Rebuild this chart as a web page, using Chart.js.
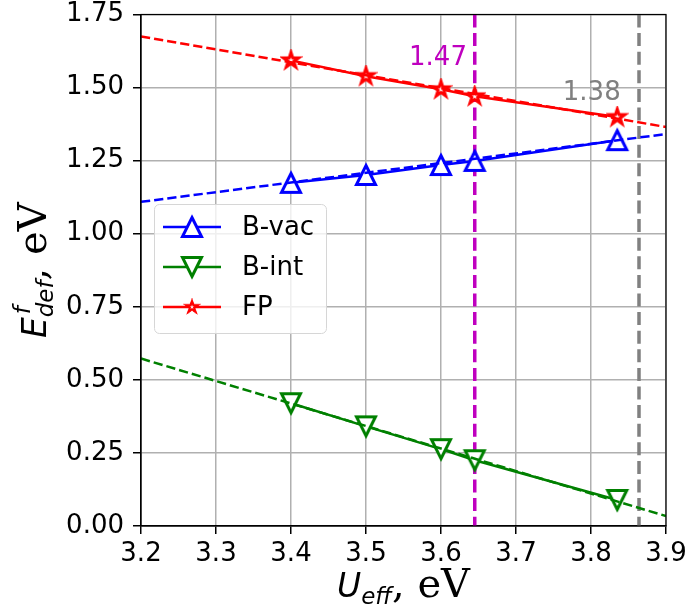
<!DOCTYPE html>
<html>
<head>
<meta charset="utf-8">
<script src="https://cdn.jsdelivr.net/npm/chart.js@4.4.0/dist/chart.umd.min.js"></script>
<style>
  html, body { margin: 0; padding: 0; background: #fff; }
  #wrap { width: 690px; height: 614px; }
</style>
</head>
<body>
<div id="wrap"><canvas id="chart" width="690" height="614"></canvas></div>
<script>
// Данные
const uEff = [3.4, 3.5, 3.6, 3.645, 3.835];
const bVac = [1.174, 1.201, 1.235, 1.249, 1.320];
const bInt = [0.420, 0.341, 0.263, 0.225, 0.089];
const fp = [1.593, 1.539, 1.494, 1.470, 1.399];

// Пунктирные аппроксимации (концы на краях оси)
const fitX = [3.2, 3.9];
const bVacFit = [1.109, 1.341];
const bIntFit = [0.573, 0.034];
const fpFit = [1.675, 1.365];

// Вертикальные линии и подписи
const vLines = [
  { x: 3.645, color: "#bf00bf", label: "1.47", labelX: 3.596, labelY: 1.60 },
  { x: 3.864, color: "#808080", label: "1.38", labelX: 3.801, labelY: 1.481 },
];

const xTicks = [3.2, 3.3, 3.4, 3.5, 3.6, 3.7, 3.8, 3.9];
const yTicks = [0, 0.25, 0.5, 0.75, 1.0, 1.25, 1.5, 1.75];

const toPts = (xs, ys) => xs.map((x, i) => ({ x, y: ys[i] }));

// Маркеры как в matplotlib
function makeMarker(kind, color, half, lw) {
  const size = Math.ceil(2 * half + lw + 4);
  const c = document.createElement("canvas");
  c.width = size;
  c.height = size;
  const g = c.getContext("2d");
  const cx = size / 2, cy = size / 2;
  g.beginPath();
  if (kind === "star") {
    const R = half, r = R * 0.382;
    for (let i = 0; i < 10; i++) {
      const a = -Math.PI / 2 + (i * Math.PI) / 5;
      const rr = i % 2 === 0 ? R : r;
      g.lineTo(cx + rr * Math.cos(a), cy + rr * Math.sin(a));
    }
  } else {
    const s = kind === "up" ? 1 : -1;
    g.moveTo(cx, cy - half * s);
    g.lineTo(cx + half, cy + half * s);
    g.lineTo(cx - half, cy + half * s);
  }
  g.closePath();
  g.fillStyle = "#fff";
  g.fill();
  g.lineJoin = "miter";
  g.lineWidth = lw;
  g.strokeStyle = color;
  g.stroke();
  return c;
}
const upImg = makeMarker("up", "#0000ff", 9.5, 3);
const downImg = makeMarker("down", "#008000", 9.5, 3);
const starImg = makeMarker("star", "#ff0000", 8, 3);

// Подписи осей, рамка, вертикали и легенда
const decorPlugin = {
  id: "decor",
  beforeDatasetsDraw(chart) {
    const { ctx, chartArea, scales } = chart;
    ctx.save();
    ctx.lineWidth = 3.5;
    ctx.setLineDash([13, 5.6]);
    vLines.forEach((v) => {
      const px = scales.x.getPixelForValue(v.x);
      ctx.strokeStyle = v.color;
      ctx.beginPath();
      ctx.moveTo(px, chartArea.top);
      ctx.lineTo(px, chartArea.bottom);
      ctx.stroke();
    });
    ctx.restore();
  },
  afterDraw(chart) {
    const { ctx, chartArea, scales } = chart;
    ctx.save();
    // рамка
    ctx.strokeStyle = "#000";
    ctx.lineWidth = 1.2;
    ctx.strokeRect(chartArea.left, chartArea.top, chartArea.right - chartArea.left, chartArea.bottom - chartArea.top);

    // подписи вертикалей
    ctx.font = "26px 'DejaVu Sans'";
    ctx.textAlign = "center";
    ctx.textBaseline = "middle";
    vLines.forEach((v) => {
      ctx.fillStyle = v.color;
      ctx.fillText(v.label, scales.x.getPixelForValue(v.labelX), scales.y.getPixelForValue(v.labelY));
    });

    // легенда
    const lx = 154, ly = 204, lw = 172, lh = 129;
    ctx.fillStyle = "rgba(255,255,255,0.8)";
    ctx.strokeStyle = "#d6d6d6";
    ctx.lineWidth = 1;
    ctx.beginPath();
    ctx.roundRect(lx + 0.5, ly + 0.5, lw, lh, 5);
    ctx.fill();
    ctx.stroke();
    const items = [
      { text: "B-vac", color: "#0000ff", img: upImg },
      { text: "B-int", color: "#008000", img: downImg },
      { text: "FP", color: "#ff0000", img: starImg },
    ];
    ctx.font = "26px 'DejaVu Sans'";
    ctx.textAlign = "left";
    items.forEach((it, i) => {
      const y = 227 + i * 40;
      ctx.strokeStyle = it.color;
      ctx.lineWidth = 2.5;
      ctx.beginPath();
      ctx.moveTo(163, y);
      ctx.lineTo(221, y);
      ctx.stroke();
      const s = it.img === starImg ? 0.75 : 1;
      const w = it.img.width * s;
      ctx.drawImage(it.img, 192 - w / 2, y - w / 2, w, w);
      ctx.fillStyle = "#000";
      ctx.fillText(it.text, 242, y + 1);
    });

    // подписи осей
    const parts = (sub, sup) => [
      { t: sub[0], f: "oblique 33px 'DejaVu Sans'", dy: 0 },
      ...(sup ? [{ t: sup, f: "oblique 23px 'DejaVu Sans'", dy: -16, noAdv: true }] : []),
      { t: sub[1], f: "oblique 23px 'DejaVu Sans'", dy: 7 },
      { t: ", ", f: "40px 'DejaVu Serif'", dy: 0 },
      { t: "eV", f: "40px 'DejaVu Serif'", dy: 0 },
    ];
    const drawLabel = (list) => {
      let total = 0;
      list.forEach((p) => {
        ctx.font = p.f;
        if (!p.noAdv) total += ctx.measureText(p.t).width;
      });
      let x = -total / 2;
      list.forEach((p) => {
        ctx.font = p.f;
        ctx.fillText(p.t, p.noAdv ? x + 3 : x, p.dy);
        if (!p.noAdv) x += ctx.measureText(p.t).width;
      });
    };
    ctx.fillStyle = "#000";
    ctx.textAlign = "left";
    ctx.textBaseline = "alphabetic";

    ctx.save();
    ctx.translate((chartArea.left + chartArea.right) / 2, 597);
    drawLabel(parts(["U", "eff"]));
    ctx.restore();

    ctx.save();
    ctx.translate(46, (chartArea.top + chartArea.bottom) / 2);
    ctx.rotate(-Math.PI / 2);
    drawLabel(parts(["E", "def"], "f"));
    ctx.restore();

    ctx.restore();
  },
};

const fitStyle = {
  borderWidth: 2.5,
  borderDash: [9.25, 4],
  pointRadius: 0,
  showLine: true,
  fill: false,
};

const dataStyle = {
  showLine: true,
  borderWidth: 2.5,
  pointRadius: 12,
};

new Chart(document.getElementById("chart"), {
  type: "scatter",
  data: {
    datasets: [
      { ...fitStyle, data: toPts(fitX, bVacFit), borderColor: "#0000ff" },
      { ...fitStyle, data: toPts(fitX, bIntFit), borderColor: "#008000" },
      { ...fitStyle, data: toPts(fitX, fpFit), borderColor: "#ff0000" },
      { ...dataStyle, label: "B-vac", data: toPts(uEff, bVac), borderColor: "#0000ff", pointStyle: upImg },
      { ...dataStyle, label: "B-int", data: toPts(uEff, bInt), borderColor: "#008000", pointStyle: downImg },
      { ...dataStyle, label: "FP", data: toPts(uEff, fp), borderColor: "#ff0000", pointStyle: starImg },
    ],
  },
  options: {
    responsive: false,
    animation: false,
    events: [],
    layout: { padding: { left: 0, top: 13, right: 24, bottom: 0 } },
    plugins: { legend: { display: false }, tooltip: { enabled: false } },
    scales: {
      x: {
        type: "linear",
        min: 3.2,
        max: 3.9,
        afterBuildTicks: (s) => { s.ticks = xTicks.map((v) => ({ value: v })); },
        afterFit: (s) => { s.height = 88; s.paddingLeft = 0; s.paddingRight = 0; },
        ticks: {
          color: "#000",
          font: { family: "DejaVu Sans", size: 26 },
          padding: 5,
          maxRotation: 0,
          callback: (v) => v.toFixed(1),
        },
        grid: { color: "#b0b0b0", lineWidth: 1.5, tickColor: "#000", tickLength: 8 },
        border: { color: "#000", width: 1.2 },
      },
      y: {
        min: 0,
        max: 1.75,
        afterBuildTicks: (s) => { s.ticks = yTicks.map((v) => ({ value: v })); },
        afterFit: (s) => { s.width = 141; s.paddingTop = 0; s.paddingBottom = 0; },
        ticks: {
          color: "#000",
          font: { family: "DejaVu Sans", size: 26 },
          padding: 9,
          callback: (v) => v.toFixed(2),
        },
        grid: { color: "#b0b0b0", lineWidth: 1.5, tickColor: "#000", tickLength: 8 },
        border: { color: "#000", width: 1.2 },
      },
    },
  },
  plugins: [decorPlugin],
});
</script>
</body>
</html>
